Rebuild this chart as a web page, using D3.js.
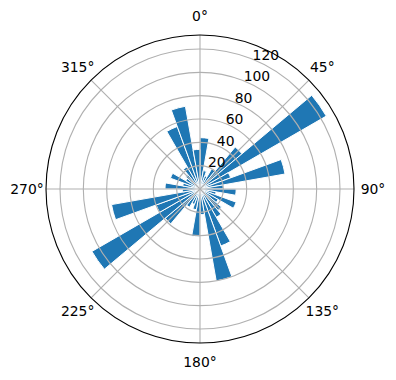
<!DOCTYPE html>
<html>
<head>
<meta charset="utf-8">
<script src="https://cdn.jsdelivr.net/npm/d3@7"></script>
<style>
  html, body { margin: 0; padding: 0; background: #fff; }
  svg { display: block; }
  text { font-family: "DejaVu Sans", sans-serif; font-size: 13.9px; fill: #000; }
</style>
</head>
<body>
<svg id="chart" width="396" height="380"></svg>
<script>
// Bin centres (degrees, clockwise from north) and bar heights
const directions = [5, 15, 25, 35, 45, 55, 65, 75, 85, 95, 105, 115,
                    125, 135, 145, 155, 165, 175, 185, 195, 205, 215, 225, 235,
                    245, 255, 265, 275, 285, 295, 305, 315, 325, 335, 345, 355];
const counts = [44, 16, 12, 20, 47, 125, 28, 74, 20, 31, 14, 33,
                18, 24, 28, 52, 80, 22, 41, 18, 14, 18, 39, 107,
                40, 77, 15, 30, 15, 27, 14, 16, 22, 57, 72, 34];
const binWidth = 10;
const rTicks = [20, 40, 60, 80, 100, 120];
const thetaTicks = [0, 45, 90, 135, 180, 225, 270, 315];
const rMax = 132;

const svg = d3.select("#chart");
const cx = 200, cy = 189, R = 154;
const g = svg.append("g").attr("transform", `translate(${cx},${cy})`);

const r = d3.scaleLinear().domain([0, rMax]).range([0, R]);
const rad = d => d * Math.PI / 180;

// bars
const arc = d3.arc().innerRadius(0);
g.append("g").selectAll("path")
  .data(directions.map((d, i) => ({ dir: d, v: counts[i] })))
  .join("path")
  .attr("d", d => arc({
    outerRadius: r(d.v),
    startAngle: rad(d.dir - binWidth / 2),
    endAngle: rad(d.dir + binWidth / 2)
  }))
  .attr("fill", "#1f77b4")
  .attr("stroke", "#ffffff")
  .attr("stroke-width", 1)
  .attr("stroke-linejoin", "miter");

// grid (drawn above patches, as matplotlib does)
const grid = g.append("g").attr("fill", "none").attr("stroke", "#b0b0b0").attr("stroke-width", 1.1);
grid.selectAll("circle")
  .data(rTicks)
  .join("circle")
  .attr("r", d => r(d));
grid.selectAll("line")
  .data(thetaTicks)
  .join("line")
  .attr("x1", 0).attr("y1", 0)
  .attr("x2", d => R * Math.sin(rad(d)))
  .attr("y2", d => -R * Math.cos(rad(d)));

// outer frame
g.append("circle").attr("r", R).attr("fill", "none").attr("stroke", "#000").attr("stroke-width", 1.1);

// theta labels
const labR = R + 19;
g.append("g").selectAll("text")
  .data(thetaTicks)
  .join("text")
  .attr("x", d => labR * Math.sin(rad(d)))
  .attr("y", d => -labR * Math.cos(rad(d)))
  .attr("text-anchor", "middle")
  .attr("dominant-baseline", "central")
  .text(d => d + "°");

// radial labels along 22.5°
const rl = rad(22.5);
g.append("g").selectAll("text")
  .data(rTicks)
  .join("text")
  .attr("x", d => r(d) * Math.sin(rl) - 1)
  .attr("y", d => -r(d) * Math.cos(rl))
  .attr("text-anchor", "start")
  .text(d => d);
</script>
</body>
</html>
